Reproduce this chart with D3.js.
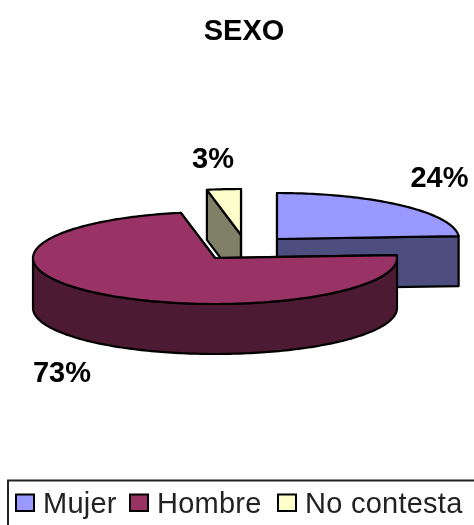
<!DOCTYPE html>
<html>
<head>
<meta charset="utf-8">
<script src="https://cdn.jsdelivr.net/npm/d3@7"></script>
<style>
  html, body { margin: 0; padding: 0; background: #fff; overflow: hidden; }
  svg { display: block; filter: blur(0.45px); }
  text { font-family: "Liberation Sans", Arial, sans-serif; fill: #000; }
</style>
</head>
<body>
<div id="chart"></div>
<script>
var categories = ["Mujer", "Hombre", "No contesta"];
var values = [24, 73, 3];
var labels = ["24%", "73%", "3%"];
var topColors = ["#9999FF", "#993366", "#FFFFCC"];
var sideColors = ["#4D4D80", "#4D1A33", "#808066"];

//Dimensions
var width = 474,
    height = 525,
    rx = 182,
    ry = 46,
    depth = 50;

//exploded centre of every slice and where its label goes
var centers = [{ x: 277, y: 239 }, { x: 215, y: 258 }, { x: 241, y: 235 }];
var labelPos = [{ x: 439.5, y: 187 }, { x: 62, y: 382 }, { x: 213, y: 168 }];

var svg = d3
  .select("#chart")
  .append("svg")
  .attr("width", width)
  .attr("height", height);

var pie = d3.pie().sort(null).value(function(d) { return d; });
var slices = pie(values);
var tau = 2 * Math.PI;

var line = d3.line();

function project(c, a, dy) {
  return [c.x + rx * Math.sin(a), c.y - ry * Math.cos(a) + (dy || 0)];
}

function arcPoints(c, a0, a1, dy) {
  var n = Math.max(2, Math.ceil((a1 - a0) / 0.02));
  return d3.range(n + 1).map(function(i) {
    return project(c, a0 + (a1 - a0) * i / n, dy);
  });
}

function drawFace(points, fill) {
  svg.append("path")
    .attr("d", line(points) + "Z")
    .attr("fill", fill)
    .attr("stroke", "#000")
    .attr("stroke-width", 2.2)
    .attr("stroke-linejoin", "round");
}

// back to front: Mujer, No contesta, Hombre
[0, 2, 1].forEach(function(i) {
  var s = slices[i], c = centers[i];

  //cut faces
  [s.startAngle, s.endAngle].forEach(function(a) {
    drawFace([[c.x, c.y], project(c, a), project(c, a, depth), [c.x, c.y + depth]], sideColors[i]);
  });

  //outer wall, only the front half of the ellipse shows
  var a0 = Math.max(s.startAngle, tau / 4),
      a1 = Math.min(s.endAngle, 3 * tau / 4);
  if (a1 > a0) {
    drawFace(arcPoints(c, a0, a1).concat(arcPoints(c, a0, a1, depth).reverse()), sideColors[i]);
  }

  //top
  drawFace([[c.x, c.y]].concat(arcPoints(c, s.startAngle, s.endAngle)), topColors[i]);
});

// Title
svg.append("text")
  .attr("x", 244)
  .attr("y", 40)
  .attr("text-anchor", "middle")
  .style("font-size", "29px")
  .style("font-weight", "bold")
  .text("SEXO");

// Slice labels
svg.selectAll(".pct")
  .data(labels)
  .enter()
  .append("text")
  .attr("class", "pct")
  .attr("x", function(d, i) { return labelPos[i].x; })
  .attr("y", function(d, i) { return labelPos[i].y; })
  .attr("text-anchor", "middle")
  .style("font-size", "29px")
  .style("font-weight", "bold")
  .text(function(d) { return d; });

// Legend, box runs off the bottom and right of the picture
svg.append("rect")
  .attr("x", 8)
  .attr("y", 480.5)
  .attr("width", 480)
  .attr("height", 60)
  .attr("fill", "#fff")
  .attr("stroke", "#222")
  .attr("stroke-width", 2);

var legendX = [16, 130, 278];

var legend = svg.selectAll(".legend")
  .data(categories)
  .enter()
  .append("g")
  .attr("class", "legend")
  .attr("transform", function(d, i) { return "translate(" + legendX[i] + ",494.5)"; });

legend.append("rect")
  .attr("width", 18)
  .attr("height", 16.5)
  .attr("fill", function(d, i) { return topColors[i]; })
  .attr("stroke", "#000")
  .attr("stroke-width", 2);

legend.append("text")
  .attr("x", 27)
  .attr("y", 18.5)
  .style("font-size", "29px")
  .style("letter-spacing", "0.25px")
  .style("fill", "#222")
  .text(function(d) { return d; });
</script>
</body>
</html>
